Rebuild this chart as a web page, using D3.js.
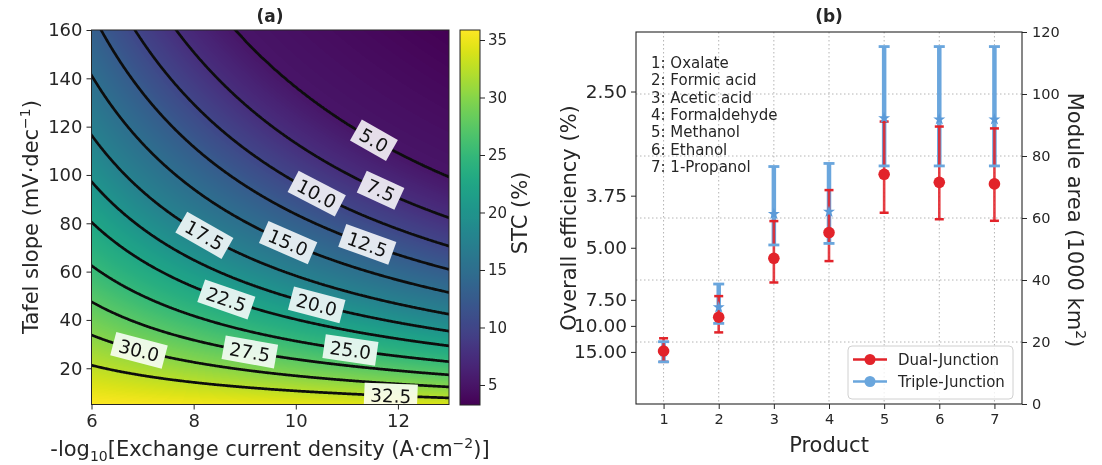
<!DOCTYPE html>
<html>
<head>
<meta charset="utf-8">
<script src="https://cdn.jsdelivr.net/npm/d3@7"></script>
<style>
  body { margin: 0; background: #fff; }
  #wrap { position: relative; width: 1102px; height: 465px; }
  #field, #chart { position: absolute; left: 0; top: 0; }
</style>
</head>
<body>
<div id="wrap">
  <canvas id="field" width="1102" height="465"></canvas>
  <svg id="chart" width="1102" height="465"></svg>
</div>
<script>
// ---------- Panel (a): STC map ----------
const xTicksA = [6, 8, 10, 12];
const yTicksA = [20, 40, 60, 80, 100, 120, 140, 160];
const cbarTicks = [5, 10, 15, 20, 25, 30, 35];
// STC (%) against overpotential (mV); overpotential = Tafel slope × (−log10 j0 − 2)
const etaKnots = [20, 85, 135, 190, 250, 322, 389, 466, 565, 670, 776, 905, 1090, 1760];
const stcKnots = [35.87, 32.5, 30, 27.5, 25, 22.5, 20, 17.5, 15, 12.5, 10, 7.5, 5, 3.26];
const contourLevels = [5, 7.5, 10, 12.5, 15, 17.5, 20, 22.5, 25, 27.5, 30, 32.5];
// x position (−log10 j0) where each contour carries its label
const labelX = [11.53, 11.66, 10.41, 11.4, 9.85, 8.21, 10.41, 8.64, 11.07, 9.1, 6.93, 11.86];

// ---------- Panel (b): products ----------
const products = [1, 2, 3, 4, 5, 6, 7];
const productNames = ["1: Oxalate", "2: Formic acid", "3: Acetic acid", "4: Formaldehyde",
                      "5: Methanol", "6: Ethanol", "7: 1-Propanol"];
const dualArea = [17.1, 28.0, 47.0, 55.3, 74.1, 71.5, 71.0];
const dualLow = [13.6, 23.1, 39.2, 46.1, 61.7, 59.6, 59.1];
const dualHigh = [21.2, 34.8, 59.0, 69.0, 91.1, 89.5, 88.9];
const tripleArea = [16.9, 31.2, 61.3, 62.0, 92.2, 91.8, 91.8];
const tripleLow = [13.6, 26.0, 51.3, 51.8, 76.8, 76.8, 76.8];
const tripleHigh = [20.1, 38.7, 76.6, 77.6, 115.3, 115.3, 115.3];
const effTicks = [2.5, 3.75, 5, 7.5, 10, 15];
const areaTicks = [0, 20, 40, 60, 80, 100, 120];
const areaTimesEfficiency = 252; // module area (1000 km²) × overall efficiency (%)

const ink = "#262626";
const font = '"DejaVu Sans", sans-serif';
const svg = d3.select("#chart").attr("font-family", font);
const defs = svg.append("defs");

function styleAxis(g, fs) {
  g.attr("font-family", font).attr("font-size", fs);
  g.selectAll("line").attr("stroke", ink).attr("stroke-width", 1);
  g.selectAll("path.domain").remove();
  g.selectAll("text").attr("fill", ink);
}

// ================= Panel (a) =================
const xA = d3.scaleLinear().domain([6, 13]).range([91.5, 449]);
const yA = d3.scaleLinear().domain([5, 160]).range([404.5, 30]);
const stcOfEta = d3.scaleLinear().domain(etaKnots).range(stcKnots).clamp(true);
const etaOfStc = d3.scaleLinear().domain(stcKnots).range(etaKnots);
const cDomain = [d3.min(stcKnots), d3.max(stcKnots)];
const colorA = d3.scaleSequential(d3.interpolateViridis).domain(cDomain);
const STC = (x, b) => stcOfEta(b * (x - 2));

// colour field on the canvas
(function drawField() {
  const ctx = document.getElementById("field").getContext("2d");
  const lut = d3.range(256).map(i => d3.rgb(colorA(cDomain[0] + (cDomain[1] - cDomain[0]) * i / 255)));
  const px0 = Math.round(xA.range()[0]), px1 = Math.round(xA.range()[1]);
  const py0 = Math.round(yA.range()[1]), py1 = Math.round(yA.range()[0]);
  const w = px1 - px0, h = py1 - py0;
  const img = ctx.createImageData(w, h);
  const tScale = d3.scaleLinear().domain(cDomain).range([0, 255]).clamp(true);
  for (let j = 0; j < h; j++) {
    const b = yA.invert(py0 + j + 0.5);
    for (let i = 0; i < w; i++) {
      const x = xA.invert(px0 + i + 0.5);
      const c = lut[Math.round(tScale(STC(x, b)))];
      const k = 4 * (j * w + i);
      img.data[k] = c.r; img.data[k + 1] = c.g; img.data[k + 2] = c.b; img.data[k + 3] = 255;
    }
  }
  ctx.putImageData(img, px0, py0);
})();

// contour lines from a grid that extends past the frame
const nx = 420, ny = 420, gx0 = 5.6, gx1 = 13.4, gb0 = 0, gb1 = 165;
const grid = new Float64Array(nx * ny);
for (let j = 0; j < ny; j++)
  for (let i = 0; i < nx; i++)
    grid[j * nx + i] = STC(gx0 + (gx1 - gx0) * i / (nx - 1), gb0 + (gb1 - gb0) * j / (ny - 1));
const contours = d3.contours().size([nx, ny]).thresholds(contourLevels)(grid);
const gridProj = d3.geoTransform({
  point(px, py) {
    const x = gx0 + (gx1 - gx0) * (px - 0.5) / (nx - 1);
    const b = gb0 + (gb1 - gb0) * (py - 0.5) / (ny - 1);
    this.stream.point(xA(x), yA(b));
  }
});
const contourPath = d3.geoPath(gridProj);

defs.append("clipPath").attr("id", "clipA").append("rect")
  .attr("x", xA.range()[0]).attr("y", yA.range()[1])
  .attr("width", xA.range()[1] - xA.range()[0]).attr("height", yA.range()[0] - yA.range()[1]);

// contour labels
const fmt1 = d3.format(".1f");
const labelData = contourLevels.map((L, k) => {
  const eta = etaOfStc(L);
  const bAt = xx => eta / (xx - 2);
  const x = labelX[k];
  const dx = xA(x + 0.05) - xA(x - 0.05);
  const dy = yA(bAt(x + 0.05)) - yA(bAt(x - 0.05));
  return { text: fmt1(L), px: xA(x), py: yA(bAt(x)), ang: Math.atan2(dy, dx) * 180 / Math.PI };
});

const mask = defs.append("mask").attr("id", "gaps").attr("maskUnits", "userSpaceOnUse")
  .attr("x", 0).attr("y", 0).attr("width", 1102).attr("height", 465);
mask.append("rect").attr("width", 1102).attr("height", 465).attr("fill", "#fff");

svg.append("g").attr("clip-path", "url(#clipA)")
  .append("g").attr("mask", "url(#gaps)")
  .selectAll("path").data(contours).join("path")
  .attr("d", contourPath).attr("fill", "none")
  .attr("stroke", "#0d0d0d").attr("stroke-width", 2.7).attr("stroke-linejoin", "round");

const labG = svg.append("g").attr("clip-path", "url(#clipA)")
  .selectAll("g").data(labelData).join("g")
  .attr("transform", d => `translate(${d.px},${d.py}) rotate(${d.ang})`);
const labRect = labG.append("rect").attr("fill", "#fff").attr("fill-opacity", 0.86);
const labText = labG.append("text").text(d => d.text)
  .attr("text-anchor", "middle").attr("dy", "0.36em")
  .attr("font-size", 18.5).attr("fill", "#111");
labText.each(function (d) { d.w = this.getComputedTextLength() + 12; d.h = 24; });
labRect.attr("x", d => -d.w / 2).attr("y", d => -d.h / 2).attr("width", d => d.w).attr("height", d => d.h);
mask.selectAll("rect.gap").data(labelData).join("rect").attr("class", "gap")
  .attr("transform", d => `translate(${d.px},${d.py}) rotate(${d.ang})`)
  .attr("x", d => -d.w / 2).attr("y", d => -d.h / 2).attr("width", d => d.w).attr("height", d => d.h)
  .attr("fill", "#000");

// frame and axes
svg.append("rect").attr("x", xA.range()[0]).attr("y", yA.range()[1])
  .attr("width", xA.range()[1] - xA.range()[0]).attr("height", yA.range()[0] - yA.range()[1])
  .attr("fill", "none").attr("stroke", ink).attr("stroke-width", 1);
svg.append("g").attr("transform", `translate(0,${yA.range()[0]})`)
  .call(d3.axisBottom(xA).tickValues(xTicksA).tickSize(5).tickPadding(5).tickFormat(d3.format("d")))
  .call(g => styleAxis(g, 18));
svg.append("g").attr("transform", `translate(${xA.range()[0]},0)`)
  .call(d3.axisLeft(yA).tickValues(yTicksA).tickSize(5).tickPadding(4).tickFormat(d3.format("d")))
  .call(g => styleAxis(g, 18));

// colour bar
const cbX = 460, cbW = 20;
const yC = d3.scaleLinear().domain(cDomain).range([405, 30]);
const grad = defs.append("linearGradient").attr("id", "viridisBar")
  .attr("x1", 0).attr("y1", 1).attr("x2", 0).attr("y2", 0);
grad.selectAll("stop").data(d3.range(0, 1.0001, 0.02)).join("stop")
  .attr("offset", d => d).attr("stop-color", d => d3.interpolateViridis(d));
svg.append("rect").attr("x", cbX).attr("y", yC.range()[1]).attr("width", cbW)
  .attr("height", yC.range()[0] - yC.range()[1])
  .attr("fill", "url(#viridisBar)").attr("stroke", ink).attr("stroke-width", 1);
svg.append("g").attr("transform", `translate(${cbX + cbW},0)`)
  .call(d3.axisRight(yC).tickValues(cbarTicks).tickSize(5).tickPadding(3).tickFormat(d3.format("d")))
  .call(g => styleAxis(g, 15));

// panel (a) texts
svg.append("text").attr("x", 270).attr("y", 22).attr("text-anchor", "middle")
  .attr("font-size", 17).attr("font-weight", "bold").attr("fill", ink).text("(a)");
const tafel = svg.append("text").attr("transform", "translate(38,217) rotate(-90)")
  .attr("text-anchor", "middle").attr("font-size", 21).attr("fill", ink);
tafel.append("tspan").text("Tafel slope (mV·dec");
tafel.append("tspan").attr("font-size", 14).attr("dy", -8).text("−1");
tafel.append("tspan").attr("dy", 8).text(")");
const xlab = svg.append("text").attr("x", 270).attr("y", 456)
  .attr("text-anchor", "middle").attr("font-size", 21).attr("fill", ink);
xlab.append("tspan").text("-log");
xlab.append("tspan").attr("font-size", 14).attr("dy", 5).text("10");
xlab.append("tspan").attr("dy", -5).text("[Exchange current density (A·cm");
xlab.append("tspan").attr("font-size", 14).attr("dy", -8).text("−2");
xlab.append("tspan").attr("dy", 8).text(")]");
svg.append("text").attr("transform", "translate(527,213) rotate(-90)")
  .attr("text-anchor", "middle").attr("font-size", 21).attr("fill", ink).text("STC (%)");

// ================= Panel (b) =================
const xB = d3.scaleLinear().domain([0.5, 7.5]).range([636, 1022]);
const yB = d3.scaleLinear().domain([0, 120]).range([404, 32]);
const effScale = d3.scalePow().exponent(-1)
  .domain([areaTimesEfficiency / 120, areaTimesEfficiency / 1])
  .range([yB(120), yB(1)]);

const gridG = svg.append("g").attr("stroke", "#b4b4b4").attr("stroke-width", 1)
  .attr("stroke-dasharray", "1.5,2.5");
gridG.selectAll("line.v").data(products).join("line").attr("class", "v")
  .attr("x1", d => xB(d)).attr("x2", d => xB(d)).attr("y1", yB(120)).attr("y2", yB(0));
gridG.selectAll("line.h").data(areaTicks.filter(t => t > 0 && t < 120)).join("line").attr("class", "h")
  .attr("x1", xB(0.5)).attr("x2", xB(7.5)).attr("y1", d => yB(d)).attr("y2", d => yB(d));

// product list
svg.append("g").selectAll("text").data(productNames).join("text")
  .attr("x", 651).attr("y", (d, i) => 68 + i * 17.3)
  .attr("font-size", 15).attr("fill", ink).text(d => d);

const red = "#e2232a", blue = "#6aa6dd";
const idx = d3.range(products.length);

// triple-junction bars
svg.append("g").selectAll("line").data(idx).join("line")
  .attr("x1", i => xB(products[i])).attr("x2", i => xB(products[i]))
  .attr("y1", i => yB(tripleLow[i])).attr("y2", i => yB(tripleHigh[i]))
  .attr("stroke", blue).attr("stroke-width", 4.5);
// dual-junction bars
svg.append("g").selectAll("line").data(idx).join("line")
  .attr("x1", i => xB(products[i])).attr("x2", i => xB(products[i]))
  .attr("y1", i => yB(dualLow[i])).attr("y2", i => yB(dualHigh[i]))
  .attr("stroke", red).attr("stroke-width", 2.6).attr("stroke-opacity", 0.88);
// caps
function caps(low, high, color, half, sw) {
  const g = svg.append("g").attr("stroke", color).attr("stroke-width", sw);
  idx.forEach(i => {
    [low[i], high[i]].forEach(v => {
      g.append("line").attr("x1", xB(products[i]) - half).attr("x2", xB(products[i]) + half)
        .attr("y1", yB(v)).attr("y2", yB(v));
    });
  });
}
caps(dualLow, dualHigh, red, 4.5, 2.5);
caps(tripleLow, tripleHigh, blue, 5.5, 2.8);
// triple-junction markers
svg.append("g").selectAll("path").data(idx).join("path")
  .attr("transform", i => `translate(${xB(products[i])},${yB(tripleArea[i])})`)
  .attr("d", d3.symbol().type(d3.symbolStar).size(45)).attr("fill", "#5b9ad8");
// dual-junction markers
svg.append("g").selectAll("circle").data(idx).join("circle")
  .attr("cx", i => xB(products[i])).attr("cy", i => yB(dualArea[i])).attr("r", 5.8)
  .attr("fill", red);

// frame and axes
svg.append("rect").attr("x", xB.range()[0]).attr("y", yB.range()[1])
  .attr("width", xB.range()[1] - xB.range()[0]).attr("height", yB.range()[0] - yB.range()[1])
  .attr("fill", "none").attr("stroke", ink).attr("stroke-width", 1.1);
svg.append("g").attr("transform", `translate(0,${yB.range()[0]})`)
  .call(d3.axisBottom(xB).tickValues(products).tickSize(5).tickPadding(5).tickFormat(d3.format("d")))
  .call(g => styleAxis(g, 14.5));
svg.append("g").attr("transform", `translate(${xB.range()[0]},0)`)
  .call(d3.axisLeft(effScale).tickValues(effTicks).tickSize(5).tickPadding(4).tickFormat(d3.format(".2f")))
  .call(g => styleAxis(g, 18.5));
svg.append("g").attr("transform", `translate(${xB.range()[1]},0)`)
  .call(d3.axisRight(yB).tickValues(areaTicks).tickSize(5).tickPadding(5).tickFormat(d3.format("d")))
  .call(g => styleAxis(g, 14.5));

// legend
const leg = svg.append("g");
leg.append("rect").attr("x", 848).attr("y", 346).attr("width", 165).attr("height", 53).attr("rx", 4)
  .attr("fill", "#fff").attr("fill-opacity", 0.8).attr("stroke", "#d0d0d0");
[["Dual-Junction", red, 359.5], ["Triple-Junction", blue, 381.5]].forEach(([name, col, y]) => {
  leg.append("line").attr("x1", 853).attr("x2", 887).attr("y1", y).attr("y2", y)
    .attr("stroke", col).attr("stroke-width", 2.5);
  leg.append("circle").attr("cx", 870).attr("cy", y).attr("r", 5.5).attr("fill", col);
  leg.append("text").attr("x", 898).attr("y", y + 5.5).attr("font-size", 15).attr("fill", ink).text(name);
});

// panel (b) texts
svg.append("text").attr("x", 829).attr("y", 22).attr("text-anchor", "middle")
  .attr("font-size", 17).attr("font-weight", "bold").attr("fill", ink).text("(b)");
svg.append("text").attr("x", 829).attr("y", 452).attr("text-anchor", "middle")
  .attr("font-size", 21).attr("fill", ink).text("Product");
svg.append("text").attr("transform", "translate(576,218) rotate(-90)")
  .attr("text-anchor", "middle").attr("font-size", 21).attr("fill", ink).text("Overall efficiency (%)");
const mod = svg.append("text").attr("transform", "translate(1068,220) rotate(90)")
  .attr("text-anchor", "middle").attr("font-size", 21).attr("fill", ink);
mod.append("tspan").text("Module area (1000 km");
mod.append("tspan").attr("font-size", 14).attr("dy", -8).text("2");
mod.append("tspan").attr("dy", 8).text(")");
</script>
</body>
</html>
